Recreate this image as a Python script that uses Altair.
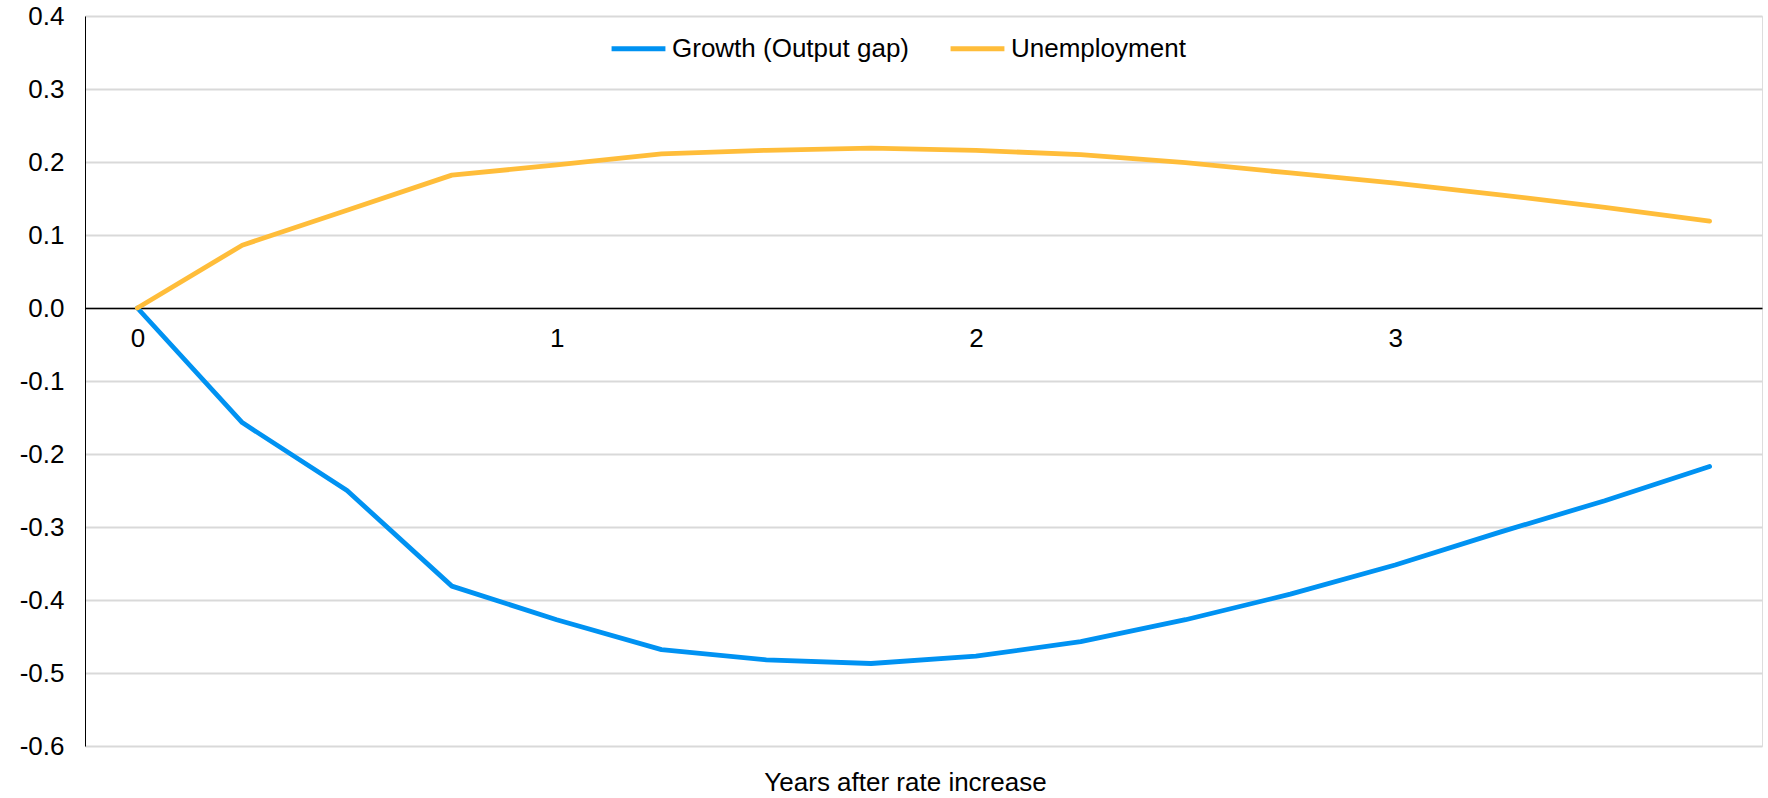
import altair as alt
import pandas as pd

# Quarterly horizon, in years after the rate increase
years = [0.0, 0.25, 0.5, 0.75, 1.0, 1.25, 1.5, 1.75,
         2.0, 2.25, 2.5, 2.75, 3.0, 3.25, 3.5, 3.75]

growth = [0.0, -0.157, -0.250, -0.381, -0.427, -0.468, -0.482, -0.487,
          -0.477, -0.457, -0.427, -0.392, -0.352, -0.307, -0.264, -0.217]

unemployment = [0.0, 0.086, 0.134, 0.182, 0.196, 0.211, 0.216, 0.219,
                0.216, 0.210, 0.199, 0.185, 0.171, 0.155, 0.138, 0.119]

series_names = ["Growth (Output gap)", "Unemployment"]
series_colors = ["#0092F2", "#FFBD3A"]

x_ticks = [0, 1, 2, 3]
y_ticks = [-0.6, -0.5, -0.4, -0.3, -0.2, -0.1, 0.0, 0.1, 0.2, 0.3, 0.4]

df = pd.DataFrame({
    "year": years * 2,
    "value": growth + unemployment,
    "series": [series_names[0]] * len(years) + [series_names[1]] * len(years),
})

FONT = "Liberation Sans"
FS = 26
PLOT_W = 1677
PLOT_H = 730
# distance from the bottom of the plot up to the zero line
ZERO_FROM_BOTTOM = PLOT_H * 0.6

chart = (
    alt.Chart(df)
    .mark_line(strokeWidth=4.8, strokeCap="round", strokeJoin="round")
    .encode(
        x=alt.X(
            "year:Q",
            scale=alt.Scale(domain=[-0.125, 3.875], nice=False, zero=False),
            axis=alt.Axis(
                values=x_ticks,
                format="d",
                grid=False,
                ticks=False,
                domainColor="#000000",
                domainWidth=1.3,
                labelFont=FONT,
                labelFontSize=FS,
                labelColor="#000000",
                labelPadding=17,
                offset=-ZERO_FROM_BOTTOM,
                title="Years after rate increase",
                titleFont=FONT,
                titleFontSize=FS,
                titleFontWeight="normal",
                titleColor="#000000",
                titleX=820,
                titleY=ZERO_FROM_BOTTOM + 36,
                titleBaseline="middle",
                titleAlign="center",
            ),
        ),
        y=alt.Y(
            "value:Q",
            scale=alt.Scale(domain=[-0.6, 0.4], nice=False, zero=False),
            axis=alt.Axis(
                values=y_ticks,
                labelExpr="replace(format(datum.value, '.1f'), '\u2212', '-')",
                grid=True,
                gridColor="#D9D9D9",
                gridWidth=1.8,
                ticks=False,
                domainColor="#000000",
                domainWidth=1,
                labelFont=FONT,
                labelFontSize=FS,
                labelColor="#000000",
                labelPadding=21,
                title=None,
            ),
        ),
        color=alt.Color(
            "series:N",
            scale=alt.Scale(domain=series_names, range=series_colors),
            legend=alt.Legend(
                title=None,
                orient="none",
                direction="horizontal",
                legendX=524,
                legendY=3,
                symbolType="stroke",
                symbolSize=2900,
                symbolStrokeWidth=5,
                labelFont=FONT,
                labelFontSize=FS,
                labelColor="#000000",
                labelOffset=4,
                labelLimit=500,
                columnPadding=31,
                padding=0,
            ),
        ),
    )
    .properties(
        width=PLOT_W,
        height=PLOT_H,
        autosize=alt.AutoSizeParams(type="none"),
        padding={"left": 85, "top": 16, "right": 6, "bottom": 52},
    )
    .configure_view(stroke=None)
    .configure(background="#FFFFFF")
)

chart.save("out.html", embed_options={"renderer": "svg", "actions": False})
